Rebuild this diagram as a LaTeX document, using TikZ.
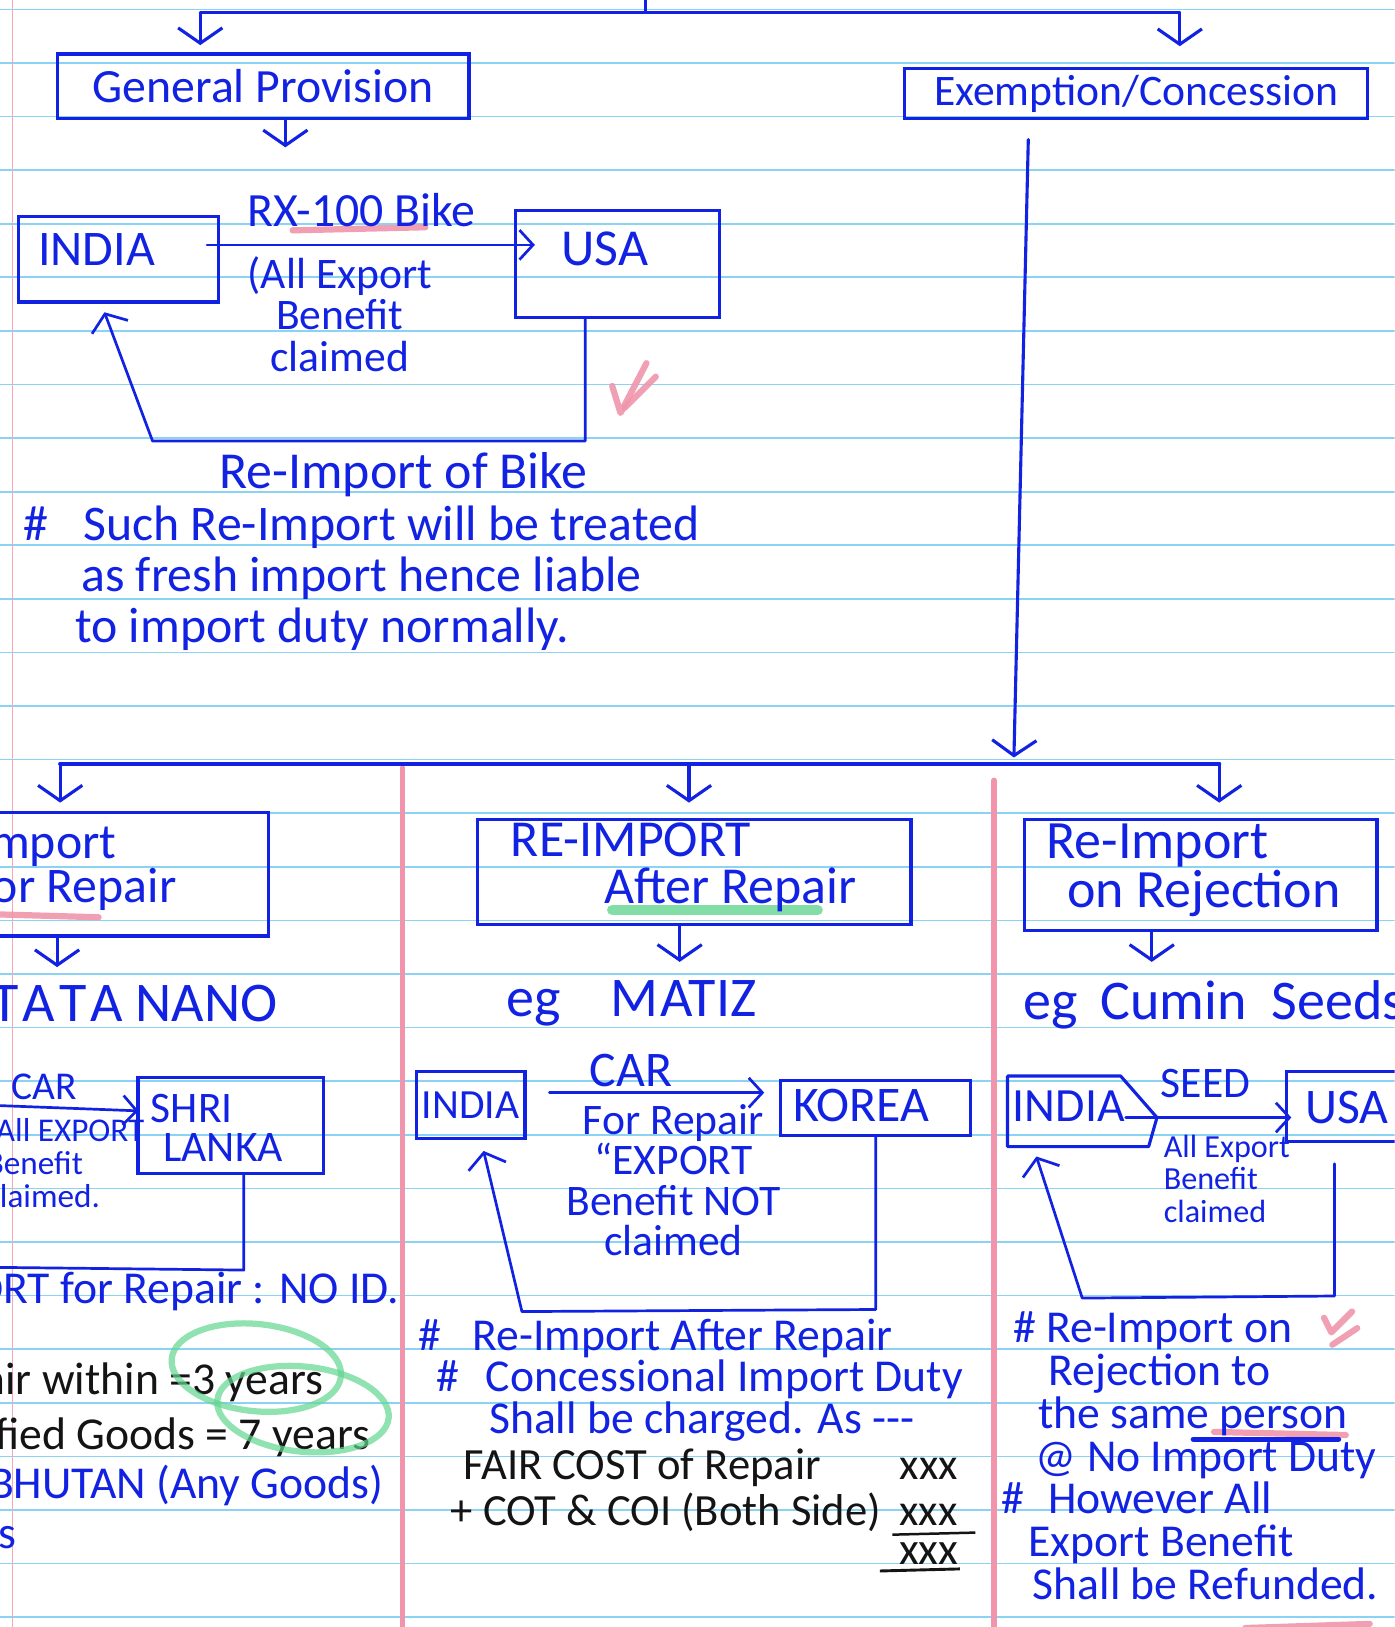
\documentclass[tikz,border=0pt]{standalone}
\usepackage{fontspec}
\setmainfont{Carlito}
\usepackage{xcolor}
\usepackage{tikz}
\usetikzlibrary{arrows.meta,calc,positioning}
\definecolor{cink}{HTML}{1222E2}
\definecolor{cpen}{HTML}{141414}
\definecolor{crule}{HTML}{8AD3F5}
\definecolor{cmargin}{HTML}{F3A7B7}
\definecolor{cpink}{HTML}{F095AB}
\definecolor{cgreen}{HTML}{63D690}
\newcommand{\inksize}[2]{\fontsize{#1}{#2}\selectfont}
\tikzset{
  >={Straight Barb[length=2.3mm,width=5mm]},
  nline/.style={cink, line width=1.3pt, line cap=round, line join=round},
  nflow/.style={nline, ->},
  nback/.style={nline, -{Straight Barb[length=2.4mm,width=6.5mm]}},
  ndown/.style={nline, line width=1.5pt, -{Straight Barb[length=2.6mm,width=7.5mm]}},
  nbox/.style={draw=cink, line width=1.5pt, inner sep=0pt},
  ntext/.style={text=cink, inner sep=0pt, font=\inksize{24}{24.5}},
  nblack/.style={text=cpen, inner sep=0pt, font=\inksize{22}{21}},
  nruled/.style={crule, line width=0.8pt},
  ncol/.style={cpink, line width=2.6pt, line cap=round},
  npinkmark/.style={cpink, line width=3pt, line cap=round, line join=round, opacity=0.9},
  ngreenmark/.style={cgreen, line width=3pt, opacity=0.7},
}

\begin{document}
\begin{tikzpicture}[x=0.5pt,y=-0.5pt]
  \useasboundingbox (0,0) rectangle (1344,1568);
  \clip (0,0) rectangle (1344,1568);
  \fill[white] (0,0) rectangle (1344,1568);

  % linhas do caderno
  \foreach \k in {0,...,30}
    \draw[nruled] (0,{9+51.65*\k}) -- (1344,{9+51.65*\k});
  \draw[cmargin, line width=0.6pt] (12,0) -- (12,1568);
  \draw[ncol] (388,740) -- (388,1580);
  \draw[ncol] (958,752) -- (958,1580);

  % ramo de cima
  \coordinate (top) at (622,12);
  \coordinate (barL) at (193,12);
  \coordinate (barR) at (1137,12);
  \draw[nline] (barL) -- (barR);
  \draw[nline] (top) -- ++(0,-20);

  \node[nbox, ntext, font=\inksize{23}{23}, minimum width=198.5pt, minimum height=31pt]
    (gen) at (253.5,83) {General Provision};
  \node[nbox, ntext, font=\inksize{21}{21}, minimum width=223pt, minimum height=24pt]
    (exem) at (1095,90) {Exemption/Concession};
  \draw[ndown, shorten >=3.5pt] (barL) -- (barL |- gen.north);
  \draw[ndown, shorten >=10pt] (barR) -- (barR |- exem.north);

  % exemplo da moto
  \coordinate (genout) at (275,142);
  \draw[ndown] (gen.south -| genout) -- (genout);

  \node[nbox, minimum width=96.5pt, minimum height=41pt] (india1) at (114.5,250) {};
  \node[ntext] (india1lbl) at (93,240) {INDIA};
  \node[nbox, minimum width=98pt, minimum height=51.5pt] (usa1) at (595,254.5) {};
  \node[ntext, font=\inksize{25}{25}] (usa1lbl) at (583,240) {USA};

  \draw[npinkmark] (282,222) -- (410,219);
  \draw[nflow] ($(india1.east)+(-13,-14)$) -- ($(india1.east -| usa1.west)+(20,-14)$)
    node[ntext, font=\inksize{23}{23}, midway, above=8pt, xshift=-4.5pt] (bikelbl) {RX-100 Bike}
    node[ntext, font=\inksize{21}{20}, midway, below=5pt, xshift=-15pt, align=center] (benlbl)
      {(All Export\\Benefit\\claimed};

  \coordinate (ret1) at (564,425);
  \coordinate (ret1b) at (147,425);
  \draw[nback, shorten >=4.5pt] (usa1.south -| ret1) -- (ret1)
    -- node[ntext, font=\inksize{25}{25}, below=5pt, pos=0.42] (rebike) {Re-Import of Bike} (ret1b)
    -- ([xshift=-8.5pt]india1.south);
  \draw[npinkmark] (590,372) -- (598,398) -- (623,350);
  \draw[npinkmark] (602,393) -- (632,363);

  \node[ntext, align=left, anchor=west] (note1) at (22,557)
    {\makebox[29pt][l]{\#}Such Re-Import will be treated\\
     \hspace*{28pt}as fresh import hence liable\\
     \hspace*{25pt}to import duty normally.};

  % ramo das isencoes
  \coordinate (hub) at (977,736);
  \coordinate (hubL) at (58,736);
  \coordinate (hubM) at (664,736);
  \coordinate (hubR) at (1175,736);
  \draw[ndown, shorten >=3pt] ([xshift=-52pt,yshift=-9.5pt]exem.south) -- (hub);
  \draw[nline, line width=2pt] (hubL) -- (hubR);

  \node[nbox, minimum width=209.5pt, minimum height=59.5pt] (imp) at (49.5,842.5) {};
  \node[nbox, minimum width=209pt, minimum height=50.5pt] (reimp) at (669,840.5) {};
  \node[nbox, minimum width=170pt, minimum height=53.5pt] (rej) at (1157,843.5) {};
  \draw[ndown, shorten >=4pt] (hubL) -- (hubL |- imp.north);
  \draw[ndown, shorten >=7.5pt] (hubM) -- (hubM |- reimp.north);
  \draw[ndown, shorten >=7.5pt] (hubR) -- (hubR |- rej.north);

  % import for repair
  \draw[npinkmark] (-10,881) -- (95,884);
  \node[ntext, align=left, anchor=west, font=\inksize{24}{21.5}] (implbl) at (-22,837)
    {Import\\for Repair};
  \coordinate (impout) at (55,932);
  \draw[ndown] (imp.south -| impout) -- (impout);
  \node[ntext, font=\inksize{27}{27}, anchor=east] (nano) at (268,967)
    {T\hspace{2pt}A\hspace{2pt}T\hspace{2pt}A\hspace{6pt}NANO};

  \node[nbox, minimum width=89.5pt, minimum height=46.5pt] (shri) at (222.5,1084.5) {};
  \node[ntext, font=\inksize{21}{18.5}, align=left, anchor=west] (shrilbl) at (145,1087)
    {SHRI\\\hspace*{6pt}LANKA};
  \coordinate (carin) at (-40,1064);
  \draw[nflow, shorten >=-1pt] (carin) -- ($(shri.west)+(0,-14)$)
    node[ntext, font=\inksize{19}{19}, pos=0.48, above=3pt] (carlbl) {CAR};
  \node[ntext, font=\inksize{16}{16}, align=left, anchor=north west] (nanoben) at (-14,1076)
    {(All EXPORT\\Benefit\\claimed.};
  \coordinate (ret2) at (235,1224);
  \coordinate (ret2b) at (-40,1221);
  \draw[nline] (shri.south -| ret2) -- (ret2) -- (ret2b);

  \node[ntext, font=\inksize{22}{22}, anchor=east] (noid) at (385,1245)
    {IMPORT for Repair : NO ID.};
  \node[nblack, anchor=east] (yr3) at (312,1332) {Re-Import for Repair within =3 years};
  \node[nblack, anchor=east] (yr7) at (357,1385) {Specified Goods = 7 years};
  \node[ntext, font=\inksize{22}{22}, anchor=east] (bhutan) at (370,1432)
    {NEPAL BHUTAN (Any Goods)};
  \node[ntext, font=\inksize{22}{22}, anchor=east] (yrs) at (16,1485) {years};
  \draw[ngreenmark, rotate around={-6:(247,1318)}] (247,1318)
    ellipse [x radius=41pt, y radius=21pt];
  \draw[ngreenmark, rotate around={-6:(292,1358)}] (292,1358)
    ellipse [x radius=41.5pt, y radius=20.5pt];

  % re-import after repair
  \draw[cgreen, line width=5pt, opacity=0.8, line cap=round] (590,877) -- (788,877);
  \node[ntext, align=left, anchor=west, font=\inksize{25}{22.5}] (reimplbl) at (492,836)
    {RE-IMPORT\\\hspace*{45pt}After Repair};
  \coordinate (reimpout) at (655,927);
  \draw[ndown] (reimp.south -| reimpout) -- (reimpout);
  \node[ntext, font=\inksize{27}{27}, anchor=west] (matiz) at (488,967)
    {eg\hspace{24pt}M\hspace{1pt}ATIZ};

  \node[nbox, ntext, font=\inksize{20}{20}, minimum width=52.5pt, minimum height=32pt]
    (india2) at (453.5,1065) {INDIA};
  \node[nbox, minimum width=91.5pt, minimum height=26.5pt] (korea) at (843.5,1067.5) {};
  \node[ntext] (korealbl) at (830,1065) {KOREA};
  \draw[nflow] ($(india2.east)+(22,-12)$) -- ($(india2.east -| korea.west)+(-14,-12)$)
    node[ntext, midway, above=2pt, xshift=-12.5pt] (carlbl2) {CAR}
    node[ntext, font=\inksize{21}{19.5}, midway, below=5pt, xshift=8pt, align=center] (repben)
      {For Repair\\“EXPORT\\Benefit NOT\\claimed};
  \coordinate (ret3) at (844,1262);
  \coordinate (ret3b) at (503,1264);
  \draw[nback, shorten >=5.5pt] (korea.south -| ret3) -- (ret3) -- (ret3b)
    -- ([xshift=5pt]india2.south);

  \node[ntext, font=\inksize{22}{20}, align=left, anchor=west] (note2) at (403,1330)
    {\#\hspace*{15pt}Re-Import After Repair\\
     \hspace*{8.5pt}\#\hspace*{13pt}Concessional Import Duty\\
     \hspace*{34pt}Shall be charged. As {-}{-}{-}};
  \node[nblack, font=\inksize{21.5}{21}, anchor=north west] (cost) at (434,1396)
    {\begin{tabular}{@{}l@{\hspace{9pt}}l@{}}
       \hspace*{6pt}FAIR COST of Repair & xxx\\
       + COT \& COI (Both Side) & xxx
     \end{tabular}};
  \draw[cpen, line width=1.2pt] (860,1479) -- (940,1477);
  \node[nblack] (total) at (895,1497) {xxx};
  \draw[cpen, line width=1.4pt] (848,1514) -- (925,1512);

  % re-import on rejection
  \node[ntext, align=left, anchor=west, font=\inksize{26}{23.5}] (rejlbl) at (1008,839)
    {Re-Import\\\hspace*{10pt}on Rejection};
  \coordinate (rejout) at (1110,927);
  \draw[ndown] (rej.south -| rejout) -- (rejout);
  \node[ntext, font=\inksize{27}{27}, anchor=west] (cumin) at (986,968)
    {eg\hspace{11pt}Cumin\hspace{12pt}Seeds};

  \draw[nline, line width=1.5pt] (971,1037) -- (1080,1037) -- (1115,1077) -- (1107,1105)
    -- (971,1105) -- cycle;
  \coordinate (india3tip) at (1115,1077);
  \coordinate (india3foot) at (996,1106);
  \node[ntext, font=\inksize{23}{23}] (india3) at (1030,1066) {INDIA};
  \node[nbox, minimum width=80pt, minimum height=33.5pt] (usa3) at (1320,1066.5) {};
  \node[ntext, font=\inksize{24}{24}] (usa3lbl) at (1298,1067) {USA};
  \draw[nflow, shorten >=-3pt] ([xshift=-15pt]india3tip) -- (india3tip -| usa3.west)
    node[ntext, font=\inksize{21}{21}, midway, above=9pt] (seedlbl) {SEED}
    node[ntext, font=\inksize{15.5}{15.5}, pos=0.23, anchor=north west, yshift=-8pt,
         align=left] (seedben)
      {All Export\\Benefit\\claimed};
  \coordinate (ret4) at (1286,1249);
  \coordinate (ret4b) at (1043,1251);
  \draw[nback, shorten >=4.5pt] ($(usa3.south -| ret4)+(0,20)$) -- (ret4) -- (ret4b)
    -- (india3foot);

  \draw[npinkmark] (1170,1380) -- (1297,1383);
  \draw[nline, line width=2.5pt] (1150,1387) -- (1290,1387);
  \node[ntext, font=\inksize{22}{20.6}, align=left, anchor=west] (note3) at (965,1403)
    {\hspace*{5.5pt}\#\hspace*{5pt}Re-Import on\\
     \hspace*{22.5pt}Rejection to\\
     \hspace*{17.5pt}the same person\\
     \hspace*{16.5pt}@ No Import Duty\\
     \#\hspace*{11.5pt}However All\\
     \hspace*{13pt}Export Benefit\\
     \hspace*{15pt}Shall be Refunded.};
  \draw[npinkmark] (1276,1270) -- (1283,1284) -- (1303,1264);
  \draw[npinkmark] (1284,1296) -- (1308,1280);
  \draw[npinkmark] (1200,1569) -- (1320,1565);

\end{tikzpicture}
\end{document}
